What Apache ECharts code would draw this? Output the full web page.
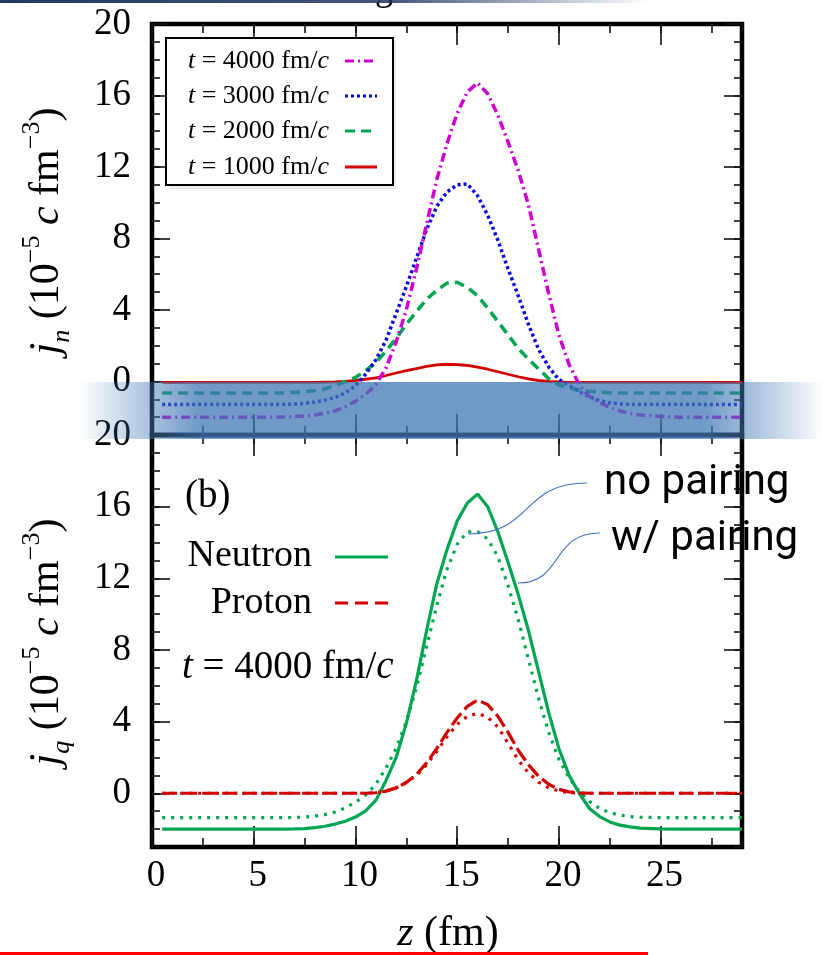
<!DOCTYPE html>
<html><head><meta charset="utf-8">
<script src="https://cdn.jsdelivr.net/npm/echarts@6/dist/echarts.min.js"></script>
<style>html,body{margin:0;padding:0;background:#fff;}#c{width:823px;height:955px;}</style>
</head><body><div id="c"></div>
<script>
// ---- data ----
const zs = [0.5,2,4,6,6.5,7,7.5,8,8.5,9,9.5,10,10.5,11,11.5,12,12.5,13,13.5,14,14.5,15,15.5,16,16.5,17,17.5,18,18.5,19,19.5,20,20.5,21,21.5,22,22.5,23,23.5,24,25,26,27,28,29];
// panel (a): j_n at different times
const jn4000 = [-2.0,-2.0,-2.0,-2.0,-1.99,-1.97,-1.94,-1.88,-1.78,-1.65,-1.42,-1.12,-0.72,-0.2,0.75,2.2,4.0,6.3,8.8,11.3,13.3,15.0,16.2,16.7,16.1,14.9,13.4,11.8,9.9,7.4,4.9,2.6,0.95,-0.2,-0.85,-1.18,-1.45,-1.65,-1.8,-1.88,-1.96,-2.0,-2.0,-2.0,-2.0];
const jn3000 = [-1.3,-1.3,-1.3,-1.3,-1.29,-1.27,-1.23,-1.16,-1.05,-0.9,-0.65,-0.25,0.4,1.2,2.3,3.8,5.3,6.9,8.5,9.8,10.6,11.0,11.05,10.4,9.3,7.9,6.3,4.8,3.2,1.8,0.8,0.1,-0.22,-0.58,-0.85,-1.08,-1.2,-1.26,-1.29,-1.3,-1.3,-1.3,-1.3,-1.3,-1.3];
const jn2000 = [-0.65,-0.65,-0.65,-0.65,-0.64,-0.62,-0.58,-0.52,-0.42,-0.22,-0.02,0.22,0.6,1.05,1.7,2.4,3.2,3.9,4.6,5.1,5.5,5.55,5.25,4.8,4.1,3.35,2.6,1.85,1.25,0.7,0.15,-0.2,-0.36,-0.48,-0.55,-0.6,-0.63,-0.65,-0.65,-0.65,-0.65,-0.65,-0.65,-0.65,-0.65];
const jn1000 = [-0.05,-0.05,-0.05,-0.05,-0.05,-0.05,-0.05,-0.05,-0.04,-0.03,0.0,0.05,0.12,0.2,0.33,0.47,0.6,0.72,0.84,0.92,0.96,0.94,0.89,0.8,0.68,0.54,0.4,0.26,0.14,0.05,0.0,-0.03,-0.05,-0.05,-0.05,-0.05,-0.05,-0.05,-0.05,-0.05,-0.05,-0.05,-0.05,-0.05,-0.05];
// panel (b): t = 4000 fm/c
const neutronNoPair = [-2.0,-2.0,-2.0,-2.0,-2.0,-1.99,-1.97,-1.92,-1.84,-1.72,-1.56,-1.33,-0.98,-0.4,0.7,2.0,3.9,6.3,9.1,11.7,13.6,15.2,16.2,16.7,16.0,14.6,12.9,11.1,9.1,6.8,4.5,2.5,1.0,0.0,-0.85,-1.3,-1.6,-1.78,-1.88,-1.95,-1.99,-2.0,-2.0,-2.0,-2.0];
const neutronPair = [-1.36,-1.36,-1.36,-1.36,-1.36,-1.35,-1.33,-1.28,-1.19,-1.05,-0.82,-0.5,-0.1,0.5,1.4,2.5,4.0,5.9,8.2,10.5,12.5,13.9,14.6,14.6,14.2,13.2,11.6,9.7,7.5,5.3,3.4,1.9,0.85,0.1,-0.45,-0.85,-1.08,-1.22,-1.3,-1.34,-1.36,-1.36,-1.36,-1.36,-1.36];
const protonNoPair = [0,0,0,0,0,0,0,0,0,0,0,0,0,0.03,0.12,0.3,0.6,1.05,1.7,2.5,3.4,4.2,4.85,5.2,4.95,4.3,3.4,2.4,1.6,0.95,0.5,0.22,0.08,0.02,0,0,0,0,0,0,0,0,0,0,0];
const protonPair = [0,0,0,0,0,0,0,0,0,0,0,0,0,0.03,0.12,0.3,0.6,1.0,1.6,2.35,3.15,3.85,4.3,4.46,4.25,3.7,2.8,1.85,1.15,0.62,0.3,0.13,0.04,0,0,0,0,0,0,0,0,0,0,0,0];
// ticks
const xMajor = [0,5,10,15,20,25];
const yMajor = [0,4,8,12,16,20];
const legendTop = ['4000','3000','2000','1000'];

const SERIF = 'Liberation Serif';
const C_MAG = '#d000d0', C_BLUE = '#0a0adc', C_GREEN = '#00a651', C_RED = '#d40000';

const pts = arr => zs.map((z,i)=>[z, arr[i]]);
const tickStyle = {color:'#111', width:1.6};

function xAx(grid, pos, major, labels){
  return {type:'value', gridIndex:grid, position:pos, min:0, max:29, interval: major?5:2.5,
    axisLine:{show:false,onZero:false}, splitLine:{show:false},
    axisTick:{show:true, inside:true, length: major?21:9, lineStyle:tickStyle, customValues: major?xMajor:undefined},
    axisLabel:{show:labels, customValues:xMajor, fontFamily:SERIF, fontSize:37, color:'#000', margin:11, padding:[0,0,0,8]}};
}
function yAx(grid, pos, major, labels){
  return {type:'value', gridIndex:grid, position:pos, min:-3, max:20, interval: major?4:1,
    axisLine:{show:false,onZero:false}, splitLine:{show:false},
    axisTick:{show:true, inside:true, length: major?18:8, lineStyle:tickStyle, customValues: major?yMajor:undefined},
    axisLabel:{show:labels, customValues:yMajor, fontFamily:SERIF, fontSize:37, color:'#000', margin:21}};
}
const xAxes = [], yAxes = [];
[0,1].forEach(g=>{
  xAxes.push(xAx(g,'bottom',true,g===1), xAx(g,'bottom',false,false), xAx(g,'top',true,false), xAx(g,'top',false,false));
  yAxes.push(yAx(g,'left',true,true), yAx(g,'left',false,false), yAx(g,'right',true,false), yAx(g,'right',false,false));
});

function line(name, data, g, color, width, dash){
  return {type:'line', name, data:pts(data), xAxisIndex:g*4, yAxisIndex:g*4, symbol:'none', silent:true,
    lineStyle:{color, width, type:dash||'solid', cap:'butt'}, z:3};
}

const rs = (fs, it)=>({fontStyle: it?'italic':'normal', fontFamily:SERIF, fontSize:fs, fill:'#000'});
const graphics = [];
// top navy band
graphics.push({type:'rect', z:90, shape:{x:0,y:0,width:650,height:3},
  style:{fill:{type:'linear',x:0,y:0,x2:1,y2:0,colorStops:[{offset:0,color:'rgba(31,56,100,1)'},{offset:0.6,color:'rgba(31,56,100,0.85)'},{offset:1,color:'rgba(31,56,100,0)'}]}}});
// partially visible title glyph
graphics.push({type:'text', z:60, x:384, y:-9, style:{text:'g', fontFamily:SERIF, fontSize:36, fill:'#000', align:'center', verticalAlign:'middle'}});
// legend box (panel a)
graphics.push({type:'rect', z:49, shape:{x:169,y:41,width:227,height:148}, style:{fill:'#ececec'}});
graphics.push({type:'rect', z:50, shape:{x:166,y:38,width:227,height:147}, style:{fill:'#fff', stroke:'#000', lineWidth:2}});
const legRows = [[61,C_MAG,[9,4,2,4]],[96,C_BLUE,[3,3]],[131,C_GREEN,[10,6]],[167,C_RED,null]];
legRows.forEach((r,i)=>{
  graphics.push({type:'text', z:51, x:329, y:r[0], style:{text:'{i|t}{n| = '+legendTop[i]+' fm/}{i|c}', fontFamily:SERIF, fontSize:26, fill:'#000', align:'right', verticalAlign:'middle', rich:{i:rs(26,true), n:rs(26,false)}}});
  graphics.push({type:'line', z:51, shape:{x1:345,y1:r[0],x2:377,y2:r[0]}, style:{stroke:r[1], lineWidth:3, lineDash:r[2]||null}});
});
// panel (b) texts
graphics.push({type:'text', z:60, x:185, y:497, style:{text:'{n|(b)}', fontFamily:SERIF, fontSize:39, fill:'#000', align:'left', verticalAlign:'middle', rich:{n:rs(39,false)}}});
graphics.push({type:'text', z:60, x:312, y:556, style:{text:'{n|Neutron}', fontFamily:SERIF, fontSize:38, fill:'#000', align:'right', verticalAlign:'middle', rich:{n:rs(38,false)}}});
graphics.push({type:'text', z:60, x:312, y:603, style:{text:'{n|Proton}', fontFamily:SERIF, fontSize:38, fill:'#000', align:'right', verticalAlign:'middle', rich:{n:rs(38,false)}}});
graphics.push({type:'line', z:60, shape:{x1:335,y1:557,x2:388,y2:557}, style:{stroke:C_GREEN, lineWidth:3}});
graphics.push({type:'line', z:60, shape:{x1:335,y1:603,x2:388,y2:603}, style:{stroke:C_RED, lineWidth:3, lineDash:[13,7]}});
graphics.push({type:'text', z:60, x:182, y:668, style:{text:'{i|t}{n| = 4000 fm/}{i|c}', fontFamily:SERIF, fontSize:39, fill:'#000', align:'left', verticalAlign:'middle', rich:{i:rs(39,true), n:rs(39,false)}}});
// annotations
graphics.push({type:'text', z:60, x:604, y:483, style:{text:'no pairing', fontFamily:'Roboto', fontSize:42, fill:'#000', align:'left', verticalAlign:'middle'}});
graphics.push({type:'text', z:60, x:611, y:539, style:{text:'w/ pairing', fontFamily:'Roboto', fontSize:42, fill:'#000', align:'left', verticalAlign:'middle'}});
graphics.push({type:'bezierCurve', z:60, shape:{x1:587,y1:483,cpx1:520,cpy1:483,cpx2:534,cpy2:534,x2:468,y2:534}, style:{stroke:'#4472c4', lineWidth:1.2, fill:null}});
graphics.push({type:'bezierCurve', z:60, shape:{x1:600,y1:533,cpx1:550,cpy1:533,cpx2:564,cpy2:583,x2:518,y2:583}, style:{stroke:'#4472c4', lineWidth:1.2, fill:null}});
// axis names
const nameRich = (fs)=>({
  i:{fontStyle:'italic', fontFamily:SERIF, fontSize:fs, fill:'#000', lineHeight:56},
  n:{fontFamily:SERIF, fontSize:fs, fill:'#000', lineHeight:56},
  sub:{fontStyle:'italic', fontFamily:SERIF, fontSize:26, fill:'#000', lineHeight:26, verticalAlign:'bottom'},
  sup:{fontFamily:SERIF, fontSize:26, fill:'#000', lineHeight:26, verticalAlign:'top'}
});
graphics.push({type:'text', z:60, x:47, y:231, rotation:Math.PI/2, style:{text:'{i|j}{sub|n}{n| (10}{sup|−5}{n| }{i|c}{n| fm}{sup|−3}{n|)}', fontFamily:SERIF, fontSize:42, fill:'#000', align:'center', verticalAlign:'middle', rich:nameRich(42)}});
graphics.push({type:'text', z:60, x:47, y:642, rotation:Math.PI/2, style:{text:'{i|j}{sub|q}{n| (10}{sup|−5}{n| }{i|c}{n| fm}{sup|−3}{n|)}', fontFamily:SERIF, fontSize:42, fill:'#000', align:'center', verticalAlign:'middle', rich:nameRich(42)}});
graphics.push({type:'text', z:60, x:448, y:934, style:{text:'{i|z}{n| (fm)}', fontFamily:SERIF, fontSize:42, fill:'#000', align:'center', verticalAlign:'middle', rich:{i:rs(42,true), n:rs(42,false)}}});
// bottom red rule
graphics.push({type:'rect', z:90, shape:{x:0,y:952,width:648,height:3}, style:{fill:'#ff0000'}});
// translucent blue band
graphics.push({type:'rect', z:100, shape:{x:80,y:382,width:743,height:57},
  style:{fill:{type:'linear',x:0,y:0,x2:1,y2:0,colorStops:[
    {offset:0,color:'rgba(64,119,180,0)'},{offset:0.094,color:'rgba(64,119,180,0.45)'},{offset:0.16,color:'rgba(64,119,180,0.75)'},
    {offset:0.84,color:'rgba(64,119,180,0.75)'},{offset:0.895,color:'rgba(64,119,180,0.5)'},{offset:1,color:'rgba(64,119,180,0)'}]}}});

const chart = echarts.init(document.getElementById('c'), null, {renderer:'canvas'});
chart.setOption({
  animation:false,
  backgroundColor:'#fff',
  grid:[
    {left:152, top:24, width:590, height:411, show:true, borderColor:'#000', borderWidth:4.5, backgroundColor:'transparent'},
    {left:152, top:435, width:590, height:412, show:true, borderColor:'#000', borderWidth:4.5, backgroundColor:'transparent'}
  ],
  xAxis:xAxes, yAxis:yAxes,
  series:[
    line('t = 1000 fm/c', jn1000, 0, C_RED, 2.8),
    line('t = 2000 fm/c', jn2000, 0, C_GREEN, 3.5, [10,6]),
    line('t = 3000 fm/c', jn3000, 0, C_BLUE, 3.5, [3,3]),
    line('t = 4000 fm/c', jn4000, 0, C_MAG, 3.5, [9,4,2,4]),
    line('Neutron (no pairing)', neutronNoPair, 1, C_GREEN, 3.2),
    line('Neutron (w/ pairing)', neutronPair, 1, C_GREEN, 3.2, [3,6]),
    line('Proton (no pairing)', protonNoPair, 1, C_RED, 3.2, [15,5]),
    line('Proton (w/ pairing)', protonPair, 1, C_RED, 3.2, [3,6])
  ],
  graphic:{elements:graphics}
});
</script></body></html>
